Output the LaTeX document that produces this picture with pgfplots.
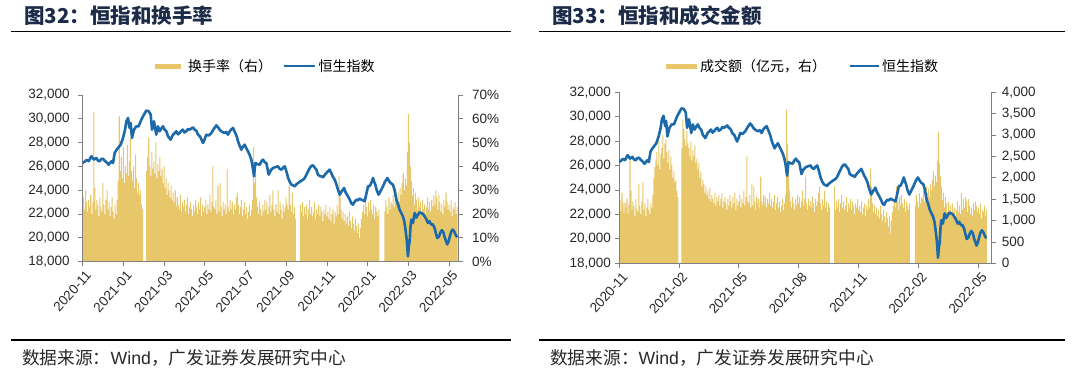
\documentclass[border=0pt]{standalone}
\usepackage{pgfplots}
\pgfplotsset{compat=1.18}
\usepackage{pgfplotstable}
\usepackage{fontspec}
\setmainfont{Liberation Sans}
\newfontfamily\cjk{Noto Sans CJK SC}
\definecolor{barc}{RGB}{232,199,106}
\definecolor{linec}{RGB}{29,106,170}
\definecolor{axisc}{RGB}{128,128,128}
\definecolor{titlec}{RGB}{28,43,72}
\definecolor{labc}{RGB}{40,40,40}

% turnover rate (%), one row per trading day
\pgfplotstableread[row sep=\\]{rate\\
24\\27\\22\\30\\25\\21\\26\\23\\28\\20\\
25\\63\\31\\22\\26\\24\\19\\27\\23\\21\\
33\\24\\20\\26\\30\\22\\25\\19\\23\\27\\
21\\18\\24\\20\\26\\34\\61\\38\\44\\35\\
48\\33\\40\\37\\49\\36\\42\\52\\38\\34\\
40\\31\\45\\35\\29\\33\\28\\30\\24\\22\\
0\\0\\0\\38\\44\\52\\40\\36\\46\\39\\
42\\37\\50\\35\\41\\38\\44\\36\\39\\33\\
40\\31\\35\\28\\33\\30\\27\\32\\26\\29\\
25\\30\\23\\27\\24\\22\\28\\21\\25\\23\\
26\\21\\24\\27\\20\\23\\25\\22\\19\\24\\
21\\26\\23\\20\\25\\22\\27\\19\\24\\21\\
23\\26\\20\\24\\22\\28\\21\\25\\40\\23\\
22\\26\\20\\32\\21\\33\\23\\19\\25\\22\\
24\\20\\39\\23\\21\\26\\22\\25\\20\\24\\
22\\27\\29\\24\\20\\23\\26\\19\\22\\25\\
20\\23\\18\\21\\24\\19\\22\\26\\48\\33\\
37\\27\\23\\20\\25\\22\\19\\24\\21\\26\\
22\\25\\20\\23\\28\\21\\24\\30\\22\\19\\
24\\21\\30\\20\\25\\22\\18\\24\\21\\23\\
27\\24\\22\\32\\24\\21\\29\\20\\23\\18\\
0\\0\\0\\0\\24\\21\\25\\19\\23\\20\\
24\\18\\22\\26\\20\\23\\19\\21\\25\\18\\
22\\20\\24\\19\\23\\21\\17\\22\\20\\24\\
19\\21\\18\\23\\17\\20\\22\\16\\21\\19\\
24\\20\\36\\30\\22\\18\\21\\17\\20\\16\\
19\\15\\21\\17\\14\\19\\16\\13\\18\\15\\
12\\16\\10\\14\\18\\21\\24\\20\\29\\23\\
19\\25\\21\\26\\22\\20\\24\\18\\23\\21\\
19\\22\\0\\0\\0\\0\\0\\21\\26\\23\\
20\\27\\22\\25\\24\\28\\23\\26\\30\\27\\
29\\25\\31\\28\\33\\37\\30\\35\\32\\46\\
62\\50\\40\\34\\28\\31\\24\\29\\26\\22\\
27\\23\\25\\21\\26\\22\\24\\20\\23\\27\\
22\\25\\21\\26\\23\\28\\24\\30\\27\\22\\
28\\25\\21\\24\\20\\26\\23\\29\\25\\22\\
24\\21\\26\\19\\23\\22\\25\\20\\23\\
}\rateT

% turnover value (100 million HKD), one row per trading day
\pgfplotstableread[row sep=\\]{amt\\
1350\\1480\\1220\\1650\\1400\\1180\\1420\\1300\\1520\\1150\\
1380\\2420\\1700\\1250\\1450\\1350\\1100\\1500\\1280\\1200\\
1850\\1350\\1150\\1450\\1900\\1250\\1400\\1100\\1300\\1500\\
1250\\1150\\1400\\1300\\1600\\2000\\2250\\2400\\2600\\2300\\
2850\\2200\\2550\\2700\\3000\\2450\\2800\\2900\\2600\\2350\\
2650\\2200\\2500\\2300\\2000\\2150\\1900\\1950\\1700\\1550\\
0\\0\\0\\2700\\3350\\3150\\2900\\2750\\3100\\2800\\
2700\\2500\\2850\\2400\\2650\\2500\\2750\\2350\\2450\\2200\\
2350\\2000\\2150\\1800\\1950\\1850\\1650\\1800\\1600\\1700\\
1500\\1750\\1450\\1600\\1500\\1400\\1650\\1350\\1550\\1450\\
1600\\1350\\1500\\1650\\1300\\1450\\1550\\1400\\1250\\1500\\
1350\\1600\\1450\\1300\\1550\\1400\\1650\\1250\\1500\\1350\\
1450\\1600\\1300\\1500\\1400\\1700\\1350\\1550\\2500\\1450\\
1400\\1600\\1300\\1850\\1350\\1800\\1450\\1250\\1550\\1400\\
1500\\1300\\2030\\1450\\1350\\1600\\1400\\1550\\1300\\1500\\
1400\\1650\\1350\\1500\\1300\\1450\\1600\\1250\\1400\\1550\\
1300\\1450\\1200\\1350\\1500\\1250\\1400\\1600\\3600\\2800\\
2300\\1700\\1450\\1300\\1550\\1400\\1250\\1500\\1350\\1600\\
1400\\1550\\1300\\1450\\1700\\1350\\1500\\2030\\1400\\1250\\
1500\\1350\\1450\\1300\\1550\\1400\\1200\\1500\\1350\\1450\\
1650\\1800\\1400\\1250\\1500\\1350\\1700\\1300\\1450\\1200\\
1400\\1300\\0\\0\\0\\0\\1800\\1250\\1450\\1300\\
1500\\1200\\1400\\1600\\1300\\1450\\1250\\1350\\1550\\1200\\
1400\\1300\\1500\\1250\\1450\\1350\\1150\\1400\\1300\\1500\\
1250\\1350\\1200\\1450\\1150\\1300\\1400\\1100\\1350\\1250\\
1500\\1300\\2220\\1800\\1400\\1200\\1350\\1150\\1300\\1100\\
1250\\1050\\1350\\1150\\1000\\1250\\1100\\950\\1200\\1050\\
850\\1100\\700\\1000\\1200\\1350\\1500\\1300\\1800\\1450\\
1250\\1550\\1350\\1600\\1400\\1300\\1500\\1200\\1450\\1350\\
1250\\1400\\0\\0\\0\\0\\0\\1350\\1600\\1450\\
1300\\1650\\1400\\1550\\1500\\1700\\1450\\1600\\1800\\1650\\
1750\\1550\\1850\\1700\\1950\\2150\\1800\\2050\\1900\\2400\\
3080\\2340\\2050\\1800\\1480\\1650\\1300\\1550\\1400\\1200\\
1450\\1250\\1350\\1150\\1400\\1200\\1300\\1100\\1250\\1450\\
1200\\1350\\1150\\1640\\1250\\1500\\1300\\1550\\1450\\1200\\
1500\\1350\\1150\\1300\\1100\\1400\\1250\\1450\\1350\\1200\\
1300\\1150\\1400\\1050\\1250\\1200\\1350\\1100\\1250\\
}\amtT

\def\hsidata{(0,26290) (2,26400) (4,26550) (6,26450) (8.6,26850) (10,26700) (11,26570) (13.5,26710) (15,26500) (16.8,26430) (18,26600) (20,26650) (22,26450) (23.3,26370) (25.6,26150) (27,26300) (28.2,26430) (29.9,26290) (31.5,27130) (33,27350) (34.8,27550) (37.4,27830) (39.7,28390) (41.5,29000) (43,29790) (44.6,30070) (46.2,29230) (47.2,29650) (48.5,28390) (50.5,29090) (52.8,29370) (55,29370) (57.7,29930) (60.3,30350) (62.6,30690) (64.9,30630) (66.9,30350) (68.2,29090) (70.1,29790) (72.4,28670) (74,29370) (75.7,28950) (77.5,29200) (79,29370) (80.5,29100) (82.3,28950) (83.9,28530) (86.5,28250) (88.8,28670) (90.5,28800) (92.1,28950) (93.7,28700) (95.3,28810) (97,29000) (98.6,29090) (100,28850) (101.9,28950) (103.5,29150) (105.2,29090) (107,29200) (108.5,29280) (110,29090) (111.7,29000) (113.4,28670) (115.5,28500) (118.3,27970) (120,28300) (121.5,28670) (124,28600) (126.5,28810) (128.5,29100) (131.4,29450) (133,29300) (134.6,29090) (137,28900) (139.6,28810) (141,28900) (142.9,28670) (144.5,28950) (146,29100) (147.8,29230) (150,28810) (151.5,28500) (152.7,28110) (154,27800) (155.9,27410) (157.5,27650) (159.2,27830) (161,27500) (162.5,27270) (164,27000) (165.7,26570) (167,26000) (168.4,25170) (169.7,26290) (171.5,26200) (174,26150) (175.5,26400) (177.2,26570) (179,26350) (180.5,26290) (182.8,25310) (185,25700) (187.1,25870) (189.5,25950) (192,26010) (193.5,25800) (195.3,25730) (197,25900) (198.6,26010) (200.5,25500) (201.9,25030) (203.5,24700) (205.2,24470) (207,24400) (208.4,24330) (210,24500) (211.7,24610) (214,24750) (216.6,24890) (218,25000) (219.9,25310) (221.5,25600) (223.2,25870) (224.8,26050) (226.4,26090) (228,25900) (229.7,25730) (231.2,25310) (233,25200) (234.6,25170) (236.1,25080) (238,25300) (240,25500) (242.7,25730) (244.5,25400) (245.8,25150) (247.6,24890) (249,24600) (250.5,24150) (252.6,23630) (254.5,23900) (256.8,24190) (258.5,23800) (260.7,23490) (262.5,23200) (264,22900) (265.6,22790) (267,23000) (268.9,23210) (270.5,23150) (272,23300) (273.8,23210) (275.5,23150) (277.1,23070) (278.5,23600) (280.4,24330) (282,24350) (283.6,24610) (285.3,25030) (286.5,24700) (287.6,24470) (289,24000) (290.8,23630) (292.5,23900) (295.1,24330) (297,24700) (299.4,25030) (301,24800) (302.6,24610) (304.9,24470) (306.5,24000) (308.2,23210) (310,22800) (311.4,22370) (313,22100) (314.7,21810) (316,21400) (317,20830) (318.5,19800) (319.6,18450) (320.5,19300) (321.3,19710) (322.1,20900) (322.9,21530) (324.5,21250) (326.2,22090) (327.8,21700) (329.5,21950) (331,22150) (332.7,22090) (334.5,22000) (336,21810) (337.5,21600) (339.3,21250) (340.8,21400) (342.5,21110) (344,21150) (345.8,20830) (347,20400) (348.4,19990) (350,20100) (351.5,20450) (353,20650) (354.5,20450) (356,19950) (357,19750) (358.2,19450) (359.5,19700) (361,20200) (362.3,20550) (363.6,20700) (365,20550) (366.5,20250) (368,20050)}

\pgfplotsset{
  myaxis/.style={
    scale only axis, anchor=south west,
    axis line style={draw=axisc, line width=0.8bp},
    tick style={draw=axisc, line width=0.8bp},
    major tick length=4.5bp, tick align=outside,
    ticklabel style={font=\fontsize{13.5bp}{15bp}\selectfont, text=labc},
    /pgf/number format/assume math mode=true,
    /pgf/number format/1000 sep={,},
    scaled y ticks=false,
  },
  pL/.style={myaxis, at={(82.6bp,119.3bp)}, width=375.4bp, height=166.7bp, xmin=0, xmax=368.8},
  pR/.style={myaxis, at={(619bp,117.7bp)}, width=372.8bp, height=171bp, xmin=0, xmax=373.5},
  xlab/.style={xticklabel style={rotate=48, anchor=north east, inner sep=1bp, yshift=-3bp}},
}

\begin{document}
\begin{tikzpicture}[x=1bp,y=1bp]
\useasboundingbox (0,0) rectangle (1080,381);
% ---------- headers, rules, legends, sources
\node[anchor=west, inner sep=0, text=titlec, font=\cjk\bfseries\fontsize{20.5bp}{22bp}\selectfont] at (24,365.5) {图32：恒指和换手率};
\node[anchor=west, inner sep=0, text=titlec, font=\cjk\bfseries\fontsize{20.5bp}{22bp}\selectfont] at (552,365.5) {图33：恒指和成交金额};
\draw[black, line width=1.3bp] (11.4,349.3) -- (511,349.3);
\draw[black, line width=1.3bp] (539,349.3) -- (1065,349.3);
\draw[black, line width=1.3bp] (11.4,41) -- (511,41);
\draw[black, line width=1.3bp] (539,41) -- (1065,41);
\node[anchor=west, inner sep=0, text=labc, font=\fontsize{17.7bp}{19bp}\selectfont] at (22,23) {{\cjk 数据来源：}Wind{\cjk ，广发证券发展研究中心}};
\node[anchor=west, inner sep=0, text=labc, font=\fontsize{17.7bp}{19bp}\selectfont] at (550,23) {{\cjk 数据来源：}Wind{\cjk ，广发证券发展研究中心}};
% legend left
\fill[barc] (155,312.5) rectangle (181,317.5);
\node[anchor=west, inner sep=0, font=\cjk\fontsize{14bp}{16bp}\selectfont] at (188,315) {换手率（右）};
\draw[linec, line width=2.2bp] (284,315) -- (315,315);
\node[anchor=west, inner sep=0, font=\cjk\fontsize{14bp}{16bp}\selectfont] at (318.5,315) {恒生指数};
% legend right
\fill[barc] (665.7,312.5) rectangle (696.7,317.5);
\node[anchor=west, inner sep=0, font=\cjk\fontsize{14bp}{16bp}\selectfont] at (700,315) {成交额（亿元，右）};
\draw[linec, line width=2.2bp] (850,315) -- (879,315);
\node[anchor=west, inner sep=0, font=\cjk\fontsize{14bp}{16bp}\selectfont] at (882,315) {恒生指数};

% ---------- left panel
\begin{axis}[pL, ymin=0, ymax=70, axis y line*=right, hide x axis,
  ytick={0,10,...,70}, yticklabel={\pgfmathprintnumber{\tick}\%},
  yticklabel style={xshift=6bp}]
\addplot[ybar, bar width=1.02, fill=barc, draw=none] table[x expr=\coordindex, y=rate] {\rateT};
\end{axis}
\begin{axis}[pL, ymin=18000, ymax=32000, axis y line*=left, axis x line*=bottom,
  ytick={18000,20000,...,32000}, xtick={0,40,...,360}, yticklabel style={xshift=-5bp},
  xticklabels={2020-11,2021-01,2021-03,2021-05,2021-07,2021-09,2021-11,2022-01,2022-03,2022-05}, xlab]
\addplot[linec, line width=2.6bp, line join=round] coordinates {\hsidata};
\end{axis}

% ---------- right panel
\begin{axis}[pR, ymin=0, ymax=4000, axis y line*=right, hide x axis,
  ytick={0,500,...,4000}, yticklabel style={xshift=2bp}]
\addplot[ybar, bar width=1.02, fill=barc, draw=none] table[x expr=\coordindex, y=amt] {\amtT};
\end{axis}
\begin{axis}[pR, ymin=18000, ymax=32000, axis y line*=left, axis x line*=bottom,
  ytick={18000,20000,...,32000}, xtick={0,60,...,360},
  xticklabels={2020-11,2021-02,2021-05,2021-08,2021-11,2022-02,2022-05}, xlab]
\addplot[linec, line width=2.6bp, line join=round] coordinates {\hsidata};
\end{axis}
\end{tikzpicture}
\end{document}
